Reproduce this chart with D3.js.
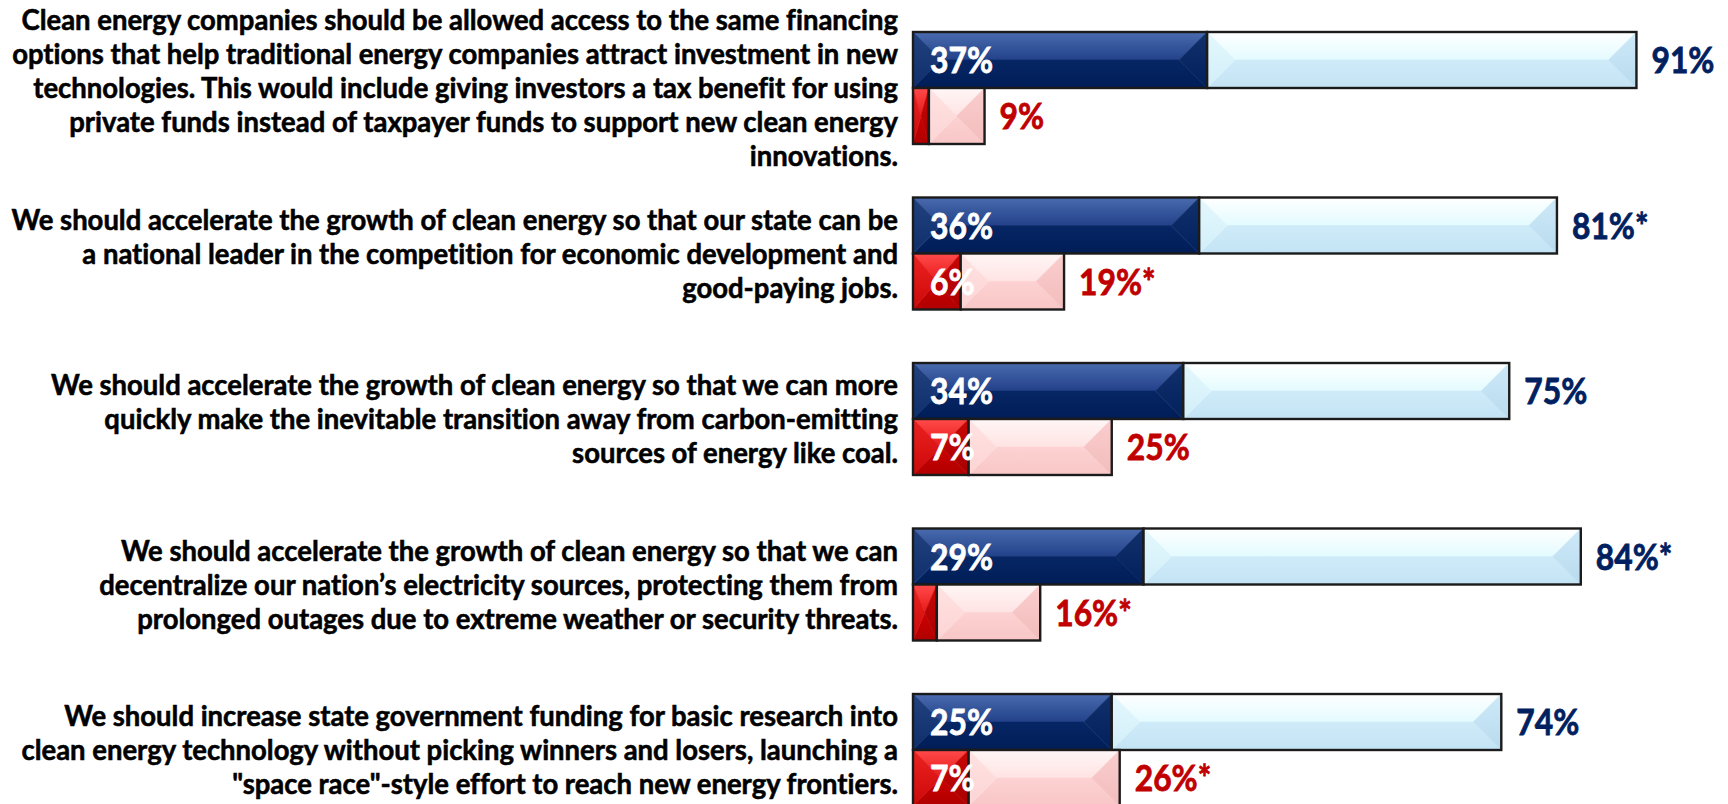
<!DOCTYPE html>
<html>
<head>
<meta charset="utf-8">
<script src="https://cdn.jsdelivr.net/npm/d3@7"></script>
<style>
  html, body { margin: 0; padding: 0; background: #ffffff; overflow: hidden; }
  svg { display: block; }
  text { font-family: Lato, "Open Sans", "DejaVu Sans", sans-serif; font-weight: 700;
         font-variant-ligatures: none; font-feature-settings: "liga" 0; }
</style>
</head>
<body>
<svg id="chart" width="1728" height="804"></svg>
<script>
// Survey statements, one array of display lines per statement
const statements = [
  ["Clean energy companies should be allowed access to the same financing",
   "options that help traditional energy companies attract investment in new",
   "technologies. This would include giving investors a tax benefit for using",
   "private funds instead of taxpayer funds to support new clean energy",
   "innovations."],
  ["We should accelerate the growth of clean energy so that our state can be",
   "a national leader in the competition for economic development and",
   "good-paying jobs."],
  ["We should accelerate the growth of clean energy so that we can more",
   "quickly make the inevitable transition away from carbon-emitting",
   "sources of energy like coal."],
  ["We should accelerate the growth of clean energy so that we can",
   "decentralize our nation\u2019s electricity sources, protecting them from",
   "prolonged outages due to extreme weather or security threats."],
  ["We should increase state government funding for basic research into",
   "clean energy technology without picking winners and losers, launching a",
   "\"space race\"-style effort to reach new energy frontiers."]
];

// Percentages
const strongSupport = [37, 36, 34, 29, 25];
const totalSupport  = [91, 81, 75, 84, 74];
const strongOppose  = [2, 6, 7, 3, 7];
const totalOppose   = [9, 19, 25, 16, 26];

// Statistically significant difference markers on the totals
const supportMark = ["", "*", "", "*", ""];
const opposeMark  = ["", "*", "", "*", "*"];

const svg = d3.select("#chart");

const x = d3.scaleLinear().domain([0, 100]).range([913, 1708]);
const y = d3.scaleBand()
  .domain(d3.range(statements.length))
  .range([32, 806])
  .paddingInner(0.3233)
  .paddingOuter(0);
const sub = d3.scaleBand()
  .domain(["support", "oppose"])
  .range([0, y.bandwidth()]);

// Facet colour sets for the bevelled bars
const palettes = {
  navy:  { top: ["#4a6bae", "#22418a"], bottom: ["#062664", "#001d57"], left: ["#22427f", "#0e2e6c"], right: ["#12306c", "#02205c"] },
  sky:   { top: ["#ffffff", "#e3fbff"], bottom: ["#cfebf9", "#c3e3f4"], left: ["#e4f8fd", "#d2eef9"], right: ["#cde9f8", "#b9dbee"] },
  red:   { top: ["#ff4a4a", "#e81a1a"], bottom: ["#cc0000", "#b00000"], left: ["#ec2222", "#cc0808"], right: ["#c80606", "#a80000"] },
  pink:  { top: ["#fff6f6", "#ffe3e3"], bottom: ["#fdd2d2", "#f8c6c6"], left: ["#ffe2e2", "#fdd4d4"], right: ["#fbcdcd", "#f2bcbc"] }
};

const defs = svg.append("defs");
Object.entries(palettes).forEach(([name, p]) => {
  Object.entries(p).forEach(([facet, stops]) => {
    const g = defs.append("linearGradient")
      .attr("id", `g-${name}-${facet}`)
      .attr("x1", 0).attr("y1", 0).attr("x2", 0).attr("y2", 1);
    g.append("stop").attr("offset", "0%").attr("stop-color", stops[0]);
    g.append("stop").attr("offset", "100%").attr("stop-color", stops[1]);
  });
});

// Segments: strong part from 0, lighter part from strong to total
const segments = [];
statements.forEach((_, i) => {
  segments.push({ row: i, series: "support", from: 0, to: strongSupport[i], pal: "navy" });
  segments.push({ row: i, series: "support", from: strongSupport[i], to: totalSupport[i], pal: "sky" });
  segments.push({ row: i, series: "oppose", from: 0, to: strongOppose[i], pal: "red" });
  segments.push({ row: i, series: "oppose", from: strongOppose[i], to: totalOppose[i], pal: "pink" });
});

const bars = svg.append("g").attr("class", "bars");

bars.selectAll("g.seg")
  .data(segments)
  .join("g")
  .attr("class", "seg")
  .each(function (d) {
    const g = d3.select(this);
    const x0 = x(d.from), x1 = x(d.to);
    const y0 = y(d.row) + sub(d.series), y1 = y0 + sub.bandwidth();
    const w = x1 - x0, h = y1 - y0;
    const dd = Math.min(h / 2, w / 2);
    const ym = y0 + h / 2;
    const facets = {
      top:    [[x0, y0], [x1, y0], [x1 - dd, ym], [x0 + dd, ym]],
      bottom: [[x0, y1], [x1, y1], [x1 - dd, ym], [x0 + dd, ym]],
      left:   [[x0, y0], [x0 + dd, ym], [x0, y1]],
      right:  [[x1, y0], [x1 - dd, ym], [x1, y1]]
    };
    Object.entries(facets).forEach(([k, pts]) => {
      g.append("polygon")
        .attr("points", pts.map(p => p.join(",")).join(" "))
        .attr("fill", `url(#g-${d.pal}-${k})`)
        .attr("stroke", `url(#g-${d.pal}-${k})`)
        .attr("stroke-width", 0.6);
    });
    g.append("rect")
      .attr("x", x0).attr("y", y0)
      .attr("width", w).attr("height", h)
      .attr("fill", "none")
      .attr("stroke", "#1b1b1b")
      .attr("stroke-width", 2.4);
  });

// Statement text, right-aligned against the bars
const lineStep = 34;
const textX = 898;
const stmtSize = 28;

const stmtGroups = svg.append("g").attr("class", "statements")
  .selectAll("g")
  .data(statements)
  .join("g");

stmtGroups.each(function (lines, i) {
  const g = d3.select(this);
  const cy = y(i) + y.bandwidth() / 2;
  lines.forEach((ln, j) => {
    g.append("text")
      .attr("x", 0)
      .attr("y", (j - (lines.length - 1) / 2) * lineStep)
      .attr("dy", "0.36em")
      .attr("text-anchor", "end")
      .attr("font-size", stmtSize)
      .attr("fill", "#000")
      .attr("stroke", "#000")
      .attr("stroke-width", 0.55)
      .text(ln);
  });
  g.attr("data-cy", cy);
});

// Narrow the text to the width of the original typeface
const refLine = stmtGroups.filter((d, i) => i === 1).select("text").node();
const kText = 887 / refLine.getComputedTextLength();
stmtGroups.attr("transform", function () {
  return `translate(${textX},${+this.getAttribute("data-cy")}) scale(${kText},1)`;
});

// Value labels
const labelSize = 37;
const labels = svg.append("g").attr("class", "labels");

const probe = labels.append("text").attr("font-size", labelSize).text("91%");
const kLabel = 63 / probe.node().getComputedTextLength();
probe.remove();

function addLabel(px, py, txt, color) {
  labels.append("text")
    .attr("transform", `translate(${px},${py}) scale(${kLabel},1)`)
    .attr("dy", "0.36em")
    .attr("font-size", labelSize)
    .attr("fill", color)
    .attr("stroke", color)
    .attr("stroke-width", 0.8)
    .text(txt);
}

statements.forEach((_, i) => {
  const ySup = y(i) + sub("support") + sub.bandwidth() / 2;
  const yOpp = y(i) + sub("oppose") + sub.bandwidth() / 2;
  // inside labels on the strong segments
  if (strongSupport[i] >= 5) addLabel(x(0) + 17, ySup, strongSupport[i] + "%", "#ffffff");
  if (strongOppose[i] >= 5) addLabel(x(0) + 17, yOpp, strongOppose[i] + "%", "#ffffff");
  // totals to the right of each bar
  addLabel(x(totalSupport[i]) + 15, ySup, totalSupport[i] + "%" + supportMark[i], "#002060");
  addLabel(x(totalOppose[i]) + 15, yOpp, totalOppose[i] + "%" + opposeMark[i], "#c00000");
});
</script>
</body>
</html>
